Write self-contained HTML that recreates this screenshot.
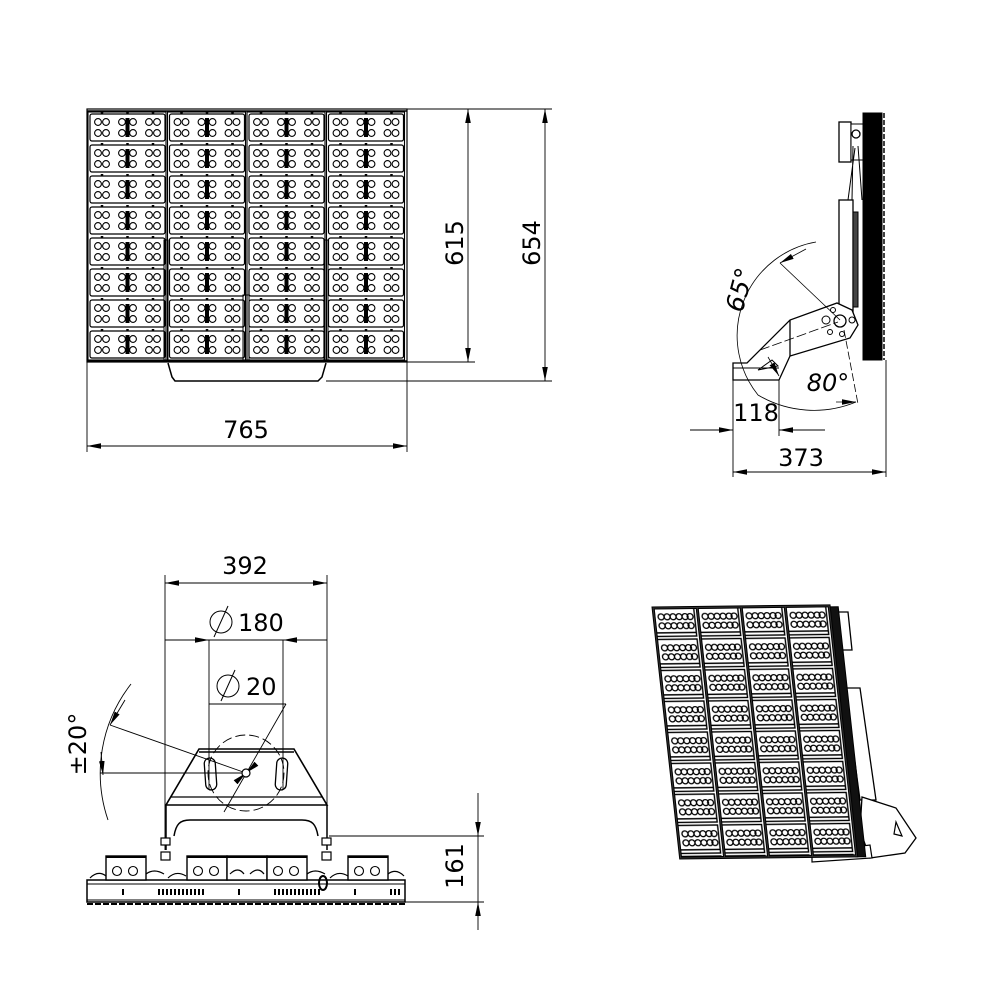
<!DOCTYPE html>
<html><head><meta charset="utf-8"><style>
html,body{margin:0;padding:0;background:#fff}
svg{display:block}
text{font-family:"DejaVu Sans","Liberation Sans",sans-serif;fill:#000}
</style></head><body>
<svg width="1000" height="1000" viewBox="0 0 1000 1000" xmlns="http://www.w3.org/2000/svg">
<defs>
<pattern id="m" x="88" y="112" width="79.5" height="31" patternUnits="userSpaceOnUse">
 <rect x="2" y="2" width="75" height="27" rx="2" fill="#fff" stroke="#000" stroke-width="1.2"/>
 <g fill="none" stroke="#000" stroke-width="1.1">
  <circle cx="10" cy="10" r="3.4"/><circle cx="18" cy="10" r="3.4"/>
  <circle cx="34" cy="10" r="3.4"/><circle cx="45" cy="10" r="3.4"/>
  <circle cx="61" cy="10" r="3.4"/><circle cx="69" cy="10" r="3.4"/>
  <circle cx="10" cy="21" r="3.4"/><circle cx="18" cy="21" r="3.4"/>
  <circle cx="34" cy="21" r="3.4"/><circle cx="45" cy="21" r="3.4"/>
  <circle cx="61" cy="21" r="3.4"/><circle cx="69" cy="21" r="3.4"/>
 </g>
 <rect x="37.5" y="6" width="4" height="19" fill="#000"/>
 <g fill="#000"><circle cx="14" cy="0.8" r="1.3"/><circle cx="39.5" cy="0.8" r="1.3"/><circle cx="65" cy="0.8" r="1.3"/></g>
</pattern>
<pattern id="iso" x="0" y="0" width="44" height="31" patternUnits="userSpaceOnUse">
 <rect width="44" height="31" fill="#fff"/>
 <rect x="1.5" y="1.5" width="40" height="28" fill="none" stroke="#000" stroke-width="1.4"/>
 <g fill="none" stroke="#000" stroke-width="1.3">
  <circle cx="8" cy="10" r="3"/><circle cx="14" cy="10" r="3"/><circle cx="20" cy="10" r="3"/><circle cx="26" cy="10" r="3"/><circle cx="32" cy="10" r="3"/><circle cx="37" cy="10" r="3"/>
  <circle cx="8" cy="19" r="3"/><circle cx="14" cy="19" r="3"/><circle cx="20" cy="19" r="3"/><circle cx="26" cy="19" r="3"/><circle cx="32" cy="19" r="3"/><circle cx="37" cy="19" r="3"/>
 </g>
 <line x1="2" y1="26" x2="42" y2="26" stroke="#000" stroke-width="1.5"/>
</pattern>
<marker id="a" viewBox="0 0 10 4" refX="10" refY="2" markerWidth="14" markerHeight="6" markerUnits="userSpaceOnUse" orient="auto-start-reverse"><path d="M0,0 L10,2 L0,4z" fill="#000"/></marker>
</defs>

<!-- FRONT VIEW -->
<g stroke="#000" fill="none">
 <rect x="87" y="109" width="320" height="253" fill="#fff" stroke-width="1.2"/>
 <rect x="88" y="112" width="78" height="248" fill="url(#m)" stroke-width="1.1"/>
 <rect x="167.5" y="112" width="78" height="248" fill="url(#m)" stroke-width="1.1"/>
 <rect x="247" y="112" width="78" height="248" fill="url(#m)" stroke-width="1.1"/>
 <rect x="326.5" y="112" width="78" height="248" fill="url(#m)" stroke-width="1.1"/>
 <line x1="87" y1="111" x2="407" y2="111" stroke-width="1.5"/>
 <line x1="87" y1="361" x2="407" y2="361" stroke-width="1.5"/>
 <rect x="164" y="240" width="4" height="120" stroke-width="1"/>
 <rect x="324" y="240" width="4" height="120" stroke-width="1"/>
 <rect x="243" y="295" width="6" height="65" stroke-width="1"/>
 <path d="M168,363 L172,377 L175,381 L318,381 L322,377 L326,363" stroke-width="1.5"/>
 <g stroke-width="0.9">
  <line x1="407" y1="109" x2="552" y2="109"/>
  <line x1="407" y1="362" x2="475" y2="362"/>
  <line x1="326" y1="381" x2="552" y2="381"/>
  <line x1="468" y1="109" x2="468" y2="362" marker-start="url(#a)" marker-end="url(#a)"/>
  <line x1="545" y1="109" x2="545" y2="381" marker-start="url(#a)" marker-end="url(#a)"/>
  <line x1="87" y1="362" x2="87" y2="452"/>
  <line x1="407" y1="362" x2="407" y2="452"/>
  <line x1="87" y1="446" x2="407" y2="446" marker-start="url(#a)" marker-end="url(#a)"/>
 </g>
</g>
<text x="463" y="243" font-size="24" text-anchor="middle" transform="rotate(-90 463 243)">615</text>
<text x="540" y="243" font-size="24" text-anchor="middle" transform="rotate(-90 540 243)">654</text>
<text x="246" y="438" font-size="24" text-anchor="middle">765</text>

<!-- SIDE VIEW -->
<g stroke="#000" fill="none">
 <rect x="863" y="113" width="19" height="247" fill="#000"/>
 <line x1="884" y1="113" x2="884" y2="360" stroke-width="1.5" stroke-dasharray="5 2"/>
 <rect x="839" y="122" width="12" height="40" fill="#fff" stroke-width="1.3"/>
 <rect x="851" y="124" width="12" height="36" fill="#fff" stroke-width="1"/>
 <circle cx="856" cy="134" r="4" stroke-width="1.3"/>
 <path d="M853,146 L852,200 M858,146 L862,200 M855,148 L848,200" stroke-width="1"/>
 <rect x="839" y="200" width="14" height="115" fill="#fff" stroke-width="1.3"/>
 <rect x="853" y="212" width="5" height="95" fill="#444" stroke-width="1"/>
 <path d="M733,363 L747,363 L790,320 L837,303 L852,310 L858,325 L850,338 L790,356 L779,380 L733,380 Z" fill="#fff" stroke-width="1.3"/>
 <line x1="790" y1="320" x2="790" y2="356" stroke-width="1.3"/>
 <line x1="733" y1="368" x2="779" y2="368" stroke-width="1"/>
 <circle cx="840" cy="321" r="6" stroke-width="1.3"/>
 <circle cx="826" cy="320" r="4" stroke-width="1"/>
 <circle cx="852" cy="320" r="3" stroke-width="1"/>
 <circle cx="833" cy="310" r="2.5" stroke-width="1"/><circle cx="842" cy="334" r="2.5" stroke-width="1"/><circle cx="830" cy="332" r="2.5" stroke-width="1"/>
 <path d="M758,370 L772,360 L778,366 Z" stroke-width="1"/>
 <line x1="760" y1="350" x2="838" y2="322" stroke-width="0.8" stroke-dasharray="10 3"/>
 <path d="M816,242 A95,95 0 0 0 758,395 A110,110 0 0 0 856,402" stroke-width="0.8"/>
 <line x1="780" y1="263" x2="840" y2="320" stroke-width="0.8"/>
 <line x1="844" y1="330" x2="858" y2="404" stroke-width="0.8" stroke-dasharray="8 3"/>
 <path d="M806,249 L780,263" stroke-width="0.8" marker-end="url(#a)"/>
 <path d="M768,357 L779,376" stroke-width="0.8" marker-end="url(#a)"/>
 <path d="M836,402 L856,402" stroke-width="0.8" marker-end="url(#a)"/>
 <g stroke-width="0.9">
  <line x1="733" y1="380" x2="733" y2="477"/>
  <line x1="779" y1="380" x2="779" y2="436"/>
  <line x1="886" y1="360" x2="886" y2="477"/>
  <line x1="690" y1="430" x2="733" y2="430" marker-end="url(#a)"/>
  <line x1="825" y1="430" x2="779" y2="430" marker-end="url(#a)"/>
  <line x1="733" y1="472" x2="886" y2="472" marker-start="url(#a)" marker-end="url(#a)"/>
 </g>
</g>
<text x="748" y="292" font-size="25" text-anchor="middle" font-style="italic" transform="rotate(-75 748 292)">65°</text>
<text x="828" y="391" font-size="24" text-anchor="middle" font-style="italic">80°</text>
<text x="756" y="421" font-size="24" text-anchor="middle">118</text>
<text x="801" y="466" font-size="24" text-anchor="middle">373</text>

<!-- BOTTOM VIEW -->
<g stroke="#000" fill="none">
 <g stroke-width="0.9">
  <line x1="165" y1="575" x2="165" y2="850"/>
  <line x1="327" y1="575" x2="327" y2="850"/>
  <line x1="165" y1="583" x2="327" y2="583" marker-start="url(#a)" marker-end="url(#a)"/>
  <line x1="165" y1="640" x2="327" y2="640"/>
  <line x1="190" y1="640" x2="209" y2="640" marker-end="url(#a)"/>
  <line x1="302" y1="640" x2="283" y2="640" marker-end="url(#a)"/>
  <line x1="209" y1="640" x2="209" y2="790"/>
  <line x1="283" y1="640" x2="283" y2="790"/>
  <line x1="209" y1="704" x2="286" y2="704"/>
  <line x1="286" y1="704" x2="224" y2="812"/>
  <path d="M255,765 L246,773" marker-end="url(#a)"/>
  <path d="M237,781 L246,773" marker-end="url(#a)"/>
  <line x1="100" y1="773" x2="246" y2="773"/>
  <line x1="110" y1="725" x2="246" y2="773"/>
  <path d="M131,684 A145,145 0 0 0 108,820" />
  <path d="M125,700 L110,725" marker-end="url(#a)"/>
  <path d="M101,752 L103,775" marker-end="url(#a)"/>
  <circle cx="246" cy="773" r="38" stroke-dasharray="10 4"/>
  <line x1="329" y1="836" x2="484" y2="836"/>
  <line x1="405" y1="902" x2="484" y2="902"/>
  <line x1="478" y1="793" x2="478" y2="836" marker-end="url(#a)"/>
  <line x1="478" y1="930" x2="478" y2="902" marker-end="url(#a)"/>
  <line x1="478" y1="836" x2="478" y2="902"/>
 </g>
 <circle cx="246" cy="773" r="4" stroke-width="1.2" fill="#fff"/>
 <path d="M199,749 L294,749 L327,805 L166,805 Z" stroke-width="1.6"/>
 <line x1="199" y1="752" x2="294" y2="752" stroke-width="1.5"/>
 <line x1="171" y1="797" x2="322" y2="797" stroke-width="1.2"/>
 <rect x="205" y="758" width="11" height="32" rx="5.5" stroke-width="1.3" transform="rotate(-4 210 774)"/>
 <rect x="276" y="758" width="11" height="32" rx="5.5" stroke-width="1.3" transform="rotate(4 281 774)"/>
 <path d="M166,805 L166,850 M327,805 L327,850 M174,836 C176,824 180,820 190,820 L302,820 C312,820 316,824 318,836" stroke-width="1.5"/>
 <g stroke-width="1.2" fill="#fff">
  <rect x="161" y="838" width="9" height="7"/><rect x="161" y="852" width="9" height="8"/>
  <rect x="322" y="838" width="9" height="7"/><rect x="322" y="852" width="9" height="8"/>
 </g>
 <rect x="87" y="880" width="318" height="22" stroke-width="1.5" fill="#fff"/>
 <path d="M87,884 L405,884 M87,900 L405,900" stroke-width="1"/>
 <g stroke-width="1.4" fill="#fff">
  <rect x="106" y="856" width="40" height="24"/><rect x="187" y="856" width="40" height="24"/>
  <rect x="227" y="856" width="40" height="24"/><rect x="267" y="856" width="40" height="24"/>
  <rect x="348" y="856" width="40" height="24"/>
 </g>
 <g stroke-width="2"><line x1="106" y1="857" x2="146" y2="857"/><line x1="187" y1="857" x2="307" y2="857"/><line x1="348" y1="857" x2="388" y2="857"/></g>
 <g stroke-width="1.1">
  <circle cx="117" cy="871" r="4.5"/><circle cx="133" cy="871" r="4.5"/>
  <circle cx="198" cy="871" r="4.5"/><circle cx="214" cy="871" r="4.5"/>
  <circle cx="278" cy="871" r="4.5"/><circle cx="294" cy="871" r="4.5"/>
  <circle cx="359" cy="871" r="4.5"/><circle cx="375" cy="871" r="4.5"/>
 </g>
 <g stroke-width="1.2">
  <path d="M90,878 q8,-8 16,-2 M146,874 q8,-6 18,0 M168,878 q8,-8 18,-2 M307,874 q8,-6 18,0 M330,878 q8,-8 18,-2 M388,874 q8,-6 16,2 M230,874 q8,-8 14,0 M250,874 q8,-8 14,0"/>
 </g>
 <path d="M90,892 h310" stroke-dasharray="2 2" stroke-width="6"/>
 <path d="M90,892 h310" stroke="#fff" stroke-dasharray="30 6 30 50" stroke-width="7"/>
 <path d="M87,904 h318" stroke-dasharray="6 2" stroke-width="2"/>
 <ellipse cx="323" cy="883" rx="4" ry="7" stroke-width="2"/>
</g>
<text x="245" y="574" font-size="24" text-anchor="middle">392</text>
<g stroke="#000" fill="none" stroke-width="1"><circle cx="221" cy="622" r="11"/><line x1="214" y1="637" x2="228" y2="606"/>
<circle cx="228" cy="686" r="11"/><line x1="221" y1="701" x2="235" y2="670"/></g>
<text x="238" y="631" font-size="24">180</text>
<text x="246" y="695" font-size="24">20</text>
<text x="86" y="744" font-size="24" text-anchor="middle" transform="rotate(-90 86 744)">±20°</text>
<text x="463" y="866" font-size="24" text-anchor="middle" transform="rotate(-90 463 866)">161</text>

<!-- ISO VIEW -->
<g stroke="#000" fill="none">
 <path d="M835,612 L848,612 L852,650 L842,650 Z" stroke-width="1.3" fill="#fff"/>
 <path d="M845,688 L860,688 L876,800 L860,800 Z" stroke-width="1.3" fill="#fff"/>
 <path d="M862,797 L896,808 L916,838 L905,853 L870,858 L860,830 Z" stroke-width="1.3" fill="#fff"/>
 <path d="M896,822 L902,836 L894,834 Z" stroke-width="1.2"/>
 <path d="M812,852 L870,845 L872,858 L812,862 Z" stroke-width="1.2" fill="#fff"/>
 <g transform="matrix(1,-0.012,0.11,1,652,607)">
  <rect x="176" y="2" width="10" height="250" fill="#111"/>
  <rect x="0" y="0" width="178" height="252" fill="#333"/>
  <rect x="2" y="2" width="42" height="248" fill="url(#iso)"/>
  <rect x="46" y="2" width="42" height="248" fill="url(#iso)"/>
  <rect x="90" y="2" width="42" height="248" fill="url(#iso)"/>
  <rect x="134" y="2" width="42" height="248" fill="url(#iso)"/>
 </g>
</g>
</svg>
</body></html>
